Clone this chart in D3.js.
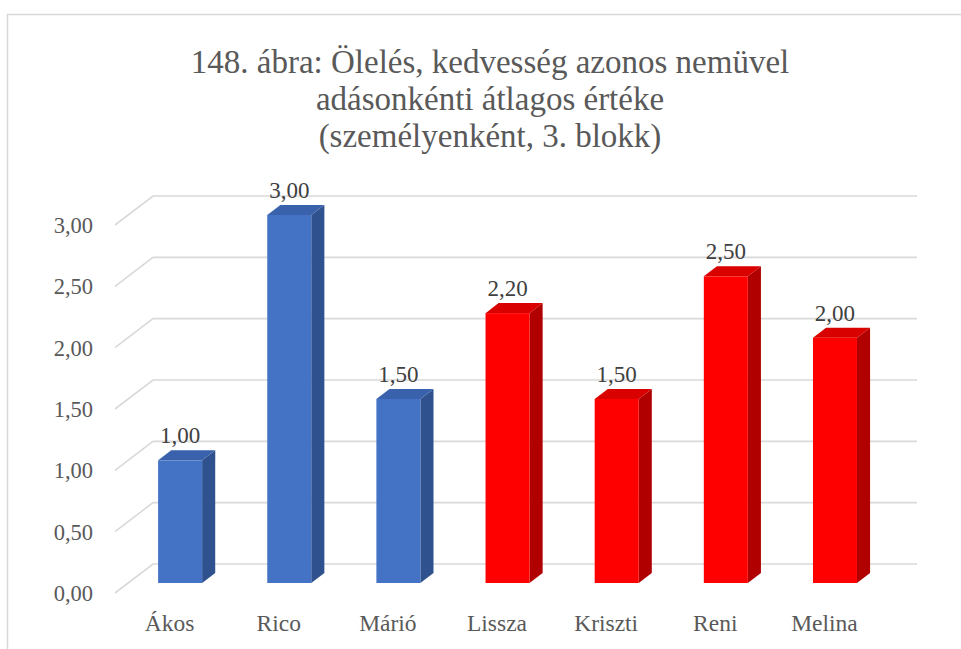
<!DOCTYPE html>
<html>
<head>
<meta charset="utf-8">
<script src="https://cdn.jsdelivr.net/npm/d3@7"></script>
<style>
  html, body { margin: 0; padding: 0; background: #ffffff; }
  svg { display: block; }
  svg text { font-family: "Liberation Serif", "Times New Roman", Times, serif; }
</style>
</head>
<body>
<svg id="chart" width="961" height="649"></svg>
<script>
// Chart data
const titleLines = [
  "148. ábra: Ölelés, kedvesség azonos nemüvel",
  "adásonkénti átlagos értéke",
  "(személyenként, 3. blokk)"
];
const categories = ["Ákos", "Rico", "Márió", "Lissza", "Kriszti", "Reni", "Melina"];
const values = [1.00, 3.00, 1.50, 2.20, 1.50, 2.50, 2.00];
const groups = ["male", "male", "male", "female", "female", "female", "female"];
const tickValues = [0, 0.5, 1, 1.5, 2, 2.5, 3];

const fmt = v => d3.format(".2f")(v).replace(".", ",");

// Face colours per group
const palette = {
  male:   { front: "#4472C4", top: "#3A62AC", side: "#2F528F" },
  female: { front: "#FF0000", top: "#D90000", side: "#B00000" }
};

const svg = d3.select("#chart");

// Frame of the chart area (top and left edges)
svg.append("path")
  .attr("d", "M7.5,649 L7.5,14.5 L961,14.5")
  .attr("fill", "none")
  .attr("stroke", "#d9d9d9")
  .attr("stroke-width", 1.5);

// Title
svg.append("g").selectAll("text")
  .data(titleLines)
  .join("text")
  .attr("x", 490)
  .attr("y", (d, i) => 73 + i * 37)
  .attr("text-anchor", "middle")
  .attr("font-size", 33)
  .attr("fill", "#595959")
  .text(d => d);

// Plot geometry: front floor edge and oblique depth
const frontLeft = 115, frontRight = 879;
const depth = { dx: 38, dy: -29 };

const x = d3.scaleBand()
  .domain(categories)
  .range([frontLeft, frontRight]);

const y = d3.scaleLinear()
  .domain([0, 3])
  .range([593, 225]);

// Depth position (0 = front, 1 = back wall)
const dX = d3.scaleLinear().domain([0, 1]).range([0, depth.dx]);
const dY = d3.scaleLinear().domain([0, 1]).range([0, depth.dy]);

// Gridlines: slanted side-wall segment then the back-wall line
svg.append("g").selectAll("path")
  .data(tickValues)
  .join("path")
  .attr("d", v => {
    const y0 = y(v);
    return `M${frontLeft},${y0} L${frontLeft + dX(1)},${y0 + dY(1)} L${frontRight + dX(1)},${y0 + dY(1)}`;
  })
  .attr("fill", "none")
  .attr("stroke", "#d9d9d9")
  .attr("stroke-width", 1.6);

// Value axis labels
svg.append("g").selectAll("text")
  .data(tickValues)
  .join("text")
  .attr("x", 93)
  .attr("y", v => y(v) + 8)
  .attr("text-anchor", "end")
  .attr("font-size", 22.5)
  .attr("fill", "#595959")
  .text(v => fmt(v));

// Category labels
svg.append("g").selectAll("text")
  .data(categories)
  .join("text")
  .attr("x", c => x(c) + x.bandwidth() / 2)
  .attr("y", 631)
  .attr("text-anchor", "middle")
  .attr("font-size", 23.5)
  .attr("fill", "#595959")
  .text(c => c);

// 3D bars
const barFront = 0.345, barBack = 0.69;   // depth extent of bars
const pad = 30;                          // gap from band start to bar
const barW = 44;

const bars = svg.append("g").selectAll("g")
  .data(categories.map((c, i) => ({ c, v: values[i], g: groups[i] })))
  .join("g");

function faces(d) {
  const x0 = x(d.c) + pad + dX(barFront);
  const x1 = x0 + barW;
  const yb = y(0) + dY(barFront);
  const yt = y(d.v) + dY(barFront);
  const ox = dX(barBack) - dX(barFront);
  const oy = dY(barBack) - dY(barFront);
  return { x0, x1, yb, yt, ox, oy };
}

bars.append("path")   // right side
  .attr("d", d => {
    const f = faces(d);
    return `M${f.x1},${f.yt} L${f.x1 + f.ox},${f.yt + f.oy} L${f.x1 + f.ox},${f.yb + f.oy} L${f.x1},${f.yb} Z`;
  })
  .attr("fill", d => palette[d.g].side);

bars.append("path")   // top
  .attr("d", d => {
    const f = faces(d);
    return `M${f.x0},${f.yt} L${f.x0 + f.ox},${f.yt + f.oy} L${f.x1 + f.ox},${f.yt + f.oy} L${f.x1},${f.yt} Z`;
  })
  .attr("fill", d => palette[d.g].top);

bars.append("rect")   // front
  .attr("x", d => faces(d).x0)
  .attr("y", d => faces(d).yt)
  .attr("width", barW)
  .attr("height", d => faces(d).yb - faces(d).yt)
  .attr("fill", d => palette[d.g].front);

// Data labels above each bar
bars.append("text")
  .attr("x", d => faces(d).x0 + barW / 2)
  .attr("y", d => faces(d).yt - 17)
  .attr("text-anchor", "middle")
  .attr("font-size", 23)
  .attr("fill", "#404040")
  .text(d => fmt(d.v));
</script>
</body>
</html>
